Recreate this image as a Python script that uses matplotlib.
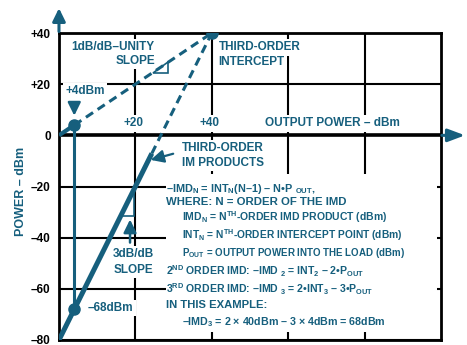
import matplotlib
matplotlib.use("Agg")
import matplotlib.pyplot as plt
from matplotlib.patches import Rectangle, Polygon

# ======= 数据 =========
teal = "#165f7d"

p_out_dbm = 4          # 基波输出功率
intercept_dbm = 40     # 三阶截点
imd3_dbm = -68         # 三阶互调产物

# 基波 1dB/dB 直线
fund_x = [0, p_out_dbm, intercept_dbm]
fund_y = [0, p_out_dbm, intercept_dbm]

# 三阶互调 3dB/dB 直线 (实线段 + 虚线段)
im3_x = [0, 24.3, intercept_dbm]
im3_y = [-80, -7.1, intercept_dbm]

y_ticks = [40, 20, 0, -20, -40, -60, -80]
y_tick_labels = ["+40", "+20", "0", "–20", "–40", "–60", "–80"]
x_grid = [20, 40, 60, 80]
x_inner_labels = ["+20", "+40"]

formula_text = [
    r"–IMD$_{N}$ = INT$_{N}$(N–1) – N•P $_{OUT}$,",
    "WHERE: N = ORDER OF THE IMD",
    r"IMD$_{N}$ = N$^{TH}$-ORDER IMD PRODUCT (dBm)",
    r"INT$_{N}$ = N$^{TH}$-ORDER INTERCEPT POINT (dBm)",
    r"P$_{OUT}$ = OUTPUT POWER INTO THE LOAD (dBm)",
    r"2$^{ND}$ ORDER IMD: –IMD $_{2}$ = INT$_{2}$ – 2•P$_{OUT}$",
    r"3$^{RD}$ ORDER IMD: –IMD $_{3}$ = 2•INT$_{3}$ – 3•P$_{OUT}$",
    "IN THIS EXAMPLE:",
    r"–IMD$_{3}$ = 2 × 40dBm – 3 × 4dBm = 68dBm",
]
# =====================

# 公式各行的位置与字号
formula_x = [28.0, 28.0, 32.2, 32.2, 32.2, 28.0, 28.0, 28.0, 32.2]
formula_y = [-22.3, -27.4, -33.6, -40.7, -47.3, -54.7, -61.8, -67.6, -74.3]
formula_fs = [7.8, 8.2, 7.5, 7.4, 7.0, 7.6, 7.6, 8.1, 7.7]

plt.rcParams["font.family"] = ["Liberation Sans", "DejaVu Sans"]
plt.rcParams["font.weight"] = "bold"
plt.rcParams["mathtext.fontset"] = "custom"
plt.rcParams["mathtext.rm"] = "Liberation Sans:bold"
plt.rcParams["mathtext.it"] = "Liberation Sans:bold"
plt.rcParams["mathtext.bf"] = "Liberation Sans:bold"
plt.rcParams["mathtext.default"] = "rm"

fig = plt.figure(figsize=(4.67, 3.45), dpi=100)
ax = fig.add_axes([0.1263, 0.0145, 0.818, 0.8898])
ax.set_xlim(0, 100)
ax.set_ylim(-80, 40)
ax.set_axisbelow(True)

# 网格和坐标轴
ax.set_xticks(x_grid)
ax.set_xticklabels([])
ax.set_yticks(y_ticks)
ax.set_yticklabels(y_tick_labels, fontsize=8.5, fontweight="bold")
ax.tick_params(length=0, pad=6)
ax.grid(True, color="black", lw=1.5)
for side in ["left", "top", "right", "bottom"]:
    ax.spines[side].set_linewidth(2)
ax.axhline(0, color="black", lw=2.6, zorder=2)

# 坐标轴箭头
head = "-|>,head_length=0.65,head_width=0.32"
ax.annotate("", xy=(0, 50.8), xytext=(0, 39.5), annotation_clip=False,
            arrowprops=dict(arrowstyle=head, color=teal, lw=2.2, mutation_scale=12))
ax.annotate("", xy=(107, 0), xytext=(99.5, 0), annotation_clip=False,
            arrowprops=dict(arrowstyle="-|>,head_length=0.85,head_width=0.32",
                            color=teal, lw=2.2, mutation_scale=12))

box = dict(fc="white", ec="none", pad=1.5)
lab = dict(color=teal, fontsize=8.5, fontweight="bold", zorder=3, va="baseline")

# 公式区域的白底
ax.add_patch(Rectangle((28, -77), 71, 61.7, fc="white", ec="none", zorder=2))

# 基波直线
ax.plot(fund_x[:2], fund_y[:2], color=teal, lw=3, solid_capstyle="butt", zorder=4)
ax.plot(fund_x[1:], fund_y[1:], color=teal, lw=2.2, dashes=(2.8, 1.8), zorder=4)

# 三阶互调直线
ax.plot(im3_x[:2], im3_y[:2], color=teal, lw=3.6, solid_capstyle="butt", zorder=4)
ax.plot(im3_x[1:], im3_y[1:], color=teal, lw=2.2, dashes=(2.8, 1.8), zorder=4)

# 从 +4dBm 向下到 -68dBm 的竖线
ax.plot([p_out_dbm, p_out_dbm], [p_out_dbm, imd3_dbm], color=teal, lw=2.2, zorder=4)
ax.plot([p_out_dbm, intercept_dbm, p_out_dbm], [p_out_dbm, intercept_dbm, imd3_dbm],
        ls="none", marker="o", ms=8, color=teal, zorder=5)

# 斜率三角形
ax.add_patch(Polygon([(24.5, 24.5), (28.5, 24.5), (28.5, 28.5)], closed=True,
                     fc="white", ec=teal, lw=1.2, zorder=3.5))
ax.add_patch(Polygon([(16.2, -31.4), (19.7, -31.4), (19.7, -21.0)], closed=True,
                     fc="white", ec=teal, lw=1.2, zorder=3.5))

# 标注文字
ax.text(3.1, 33.2, "1dB/dB–UNITY", ha="left", bbox=box, **lab)
ax.text(14.9, 27.8, "SLOPE", ha="left", bbox=box, **lab)
ax.text(41.8, 33.2, "THIRD-ORDER", ha="left", bbox=box, **lab)
ax.text(41.8, 27.4, "INTERCEPT", ha="left", bbox=box, **lab)

ax.text(6.8, 16.0, "+4dBm", ha="center", bbox=box, **lab)
ax.annotate("", xy=(p_out_dbm, 6.6), xytext=(p_out_dbm, 14.0),
            arrowprops=dict(arrowstyle=head, color=teal, lw=1.8, mutation_scale=12),
            zorder=5)

for xv, s in zip([19.5, 39.5], x_inner_labels):
    ax.text(xv, 3.5, s, ha="center", bbox=box, **lab)
ax.text(53.9, 3.5, "OUTPUT POWER – dBm", ha="left", bbox=box, **lab)

ax.text(32.2, -6.3, "THIRD-ORDER", ha="left", bbox=box, **lab)
ax.text(32.2, -12.1, "IM PRODUCTS", ha="left", bbox=box, **lab)
ax.annotate("", xy=(23.3, -9.9), xytext=(30.6, -6.9),
            arrowprops=dict(arrowstyle=head, color=teal, lw=1.6, mutation_scale=12),
            zorder=5)

ax.text(19.6, -47.7, "3dB/dB", ha="center", bbox=box, **lab)
ax.text(19.6, -53.9, "SLOPE", ha="center", bbox=box, **lab)
ax.annotate("", xy=(18.6, -31.8), xytext=(18.6, -43),
            arrowprops=dict(arrowstyle=head, color=teal, lw=1.8, mutation_scale=12),
            zorder=5)

ax.text(7.6, -68.8, "–68dBm", ha="left", bbox=box, **lab)

for xv, yv, fs, s in zip(formula_x, formula_y, formula_fs, formula_text):
    ax.text(xv, yv, s, ha="left", va="baseline", color=teal, fontsize=fs,
            fontweight="bold", zorder=3)

ax.set_ylabel("POWER – dBm", color=teal, fontsize=9, fontweight="bold")
ax.yaxis.set_label_coords(-0.083, 0.485)

fig.savefig("out.png", dpi=100)
